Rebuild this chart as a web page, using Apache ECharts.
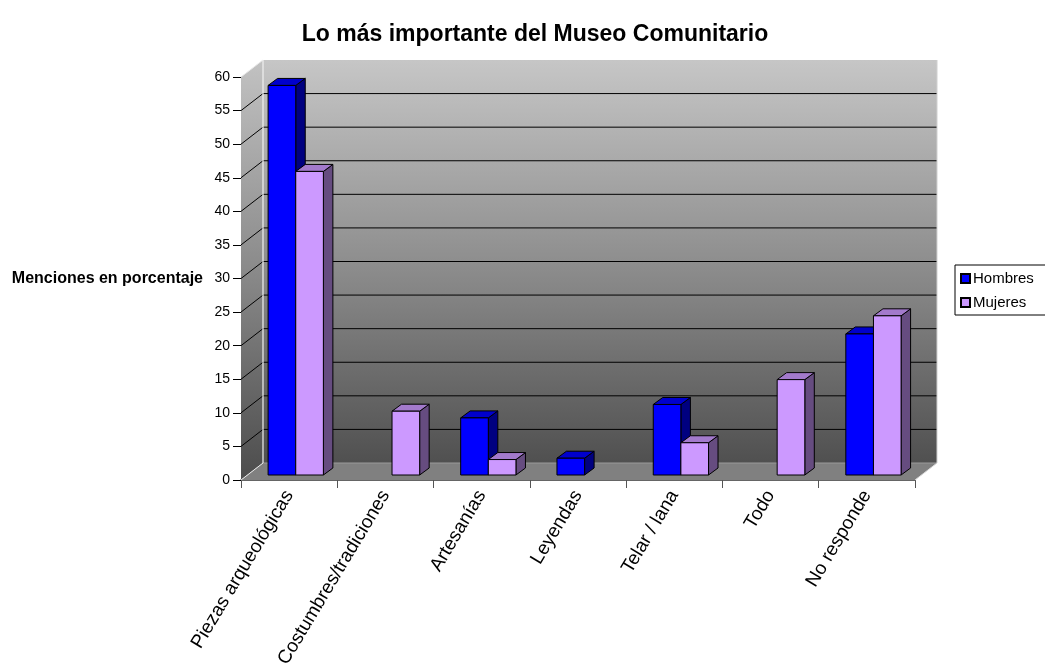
<!DOCTYPE html>
<html>
<head>
<meta charset="utf-8">
<script src="https://cdn.jsdelivr.net/npm/echarts@6/dist/echarts.min.js"></script>
<style>html,body{margin:0;padding:0;background:#fff}#c{width:1045px;height:671px}</style>
</head>
<body>
<div id="c"></div>
<script>
const categories = ['Piezas arqueológicas','Costumbres/tradiciones','Artesanías','Leyendas','Telar / lana','Todo','No responde'];
const hombres = [58, 0, 8.5, 2.5, 10.5, 0, 21];
const mujeres = [45.2, 9.5, 2.3, 0, 4.8, 14.2, 23.7];
const yTicks = [0,5,10,15,20,25,30,35,40,45,50,55,60];

const FONT = "'Liberation Sans', Arial, sans-serif";
const DX = 22, DY = -17;          // depth of the 3D box
const FX = 6.6, FY = -5;          // bar front plane offset
const BDX = 9.5, BDY = -7;        // bar depth
const BAR_FRAC = 0.287;

const chart = echarts.init(document.getElementById('c'), null, {renderer:'canvas'});

function wallRender(params, api) {
  const cs = params.coordSys;
  const x0 = cs.x, x1 = cs.x + cs.width, yt = cs.y, yb = cs.y + cs.height;
  const grad = new echarts.graphic.LinearGradient(0,0,0,1,[
    {offset:0,color:'#c6c6c6'},{offset:0.5,color:'#8e8e8e'},{offset:1,color:'#505050'}]);
  const gradSide = new echarts.graphic.LinearGradient(0,0,0,1,[
    {offset:0,color:'#c2c2c2'},{offset:0.5,color:'#8a8a8a'},{offset:1,color:'#4c4c4c'}]);
  const children = [];
  children.push({type:'rect', shape:{x:x0+DX, y:yt+DY, width:x1-x0, height:yb-yt}, style:{fill:grad}});
  children.push({type:'polygon', shape:{points:[[x0,yt],[x0+DX,yt+DY],[x0+DX,yb+DY],[x0,yb]]}, style:{fill:gradSide}});
  children.push({type:'polygon', shape:{points:[[x0,yb],[x1,yb],[x1+DX,yb+DY],[x0+DX,yb+DY]]}, style:{fill:'#808080'}});
  yTicks.forEach(v => {
    const y = api.coord([0, v])[1];
    const edge = (v === 0 || v === 60);
    const col = edge ? '#e8e8e8' : '#000';
    if (!edge) {
      children.push({type:'line', shape:{x1:x0+DX, y1:y+DY, x2:x1+DX, y2:y+DY}, style:{stroke:col, lineWidth:1}});
    } else if (v === 0) {
      children.push({type:'line', shape:{x1:x0+DX, y1:y+DY, x2:x1+DX, y2:y+DY}, style:{stroke:'#9a9a9a', lineWidth:1}});
    }
    children.push({type:'line', shape:{x1:x0, y1:y, x2:x0+DX, y2:y+DY}, style:{stroke:col, lineWidth:1}});
  });
  children.push({type:'line', shape:{x1:x0+DX, y1:yt+DY, x2:x0+DX, y2:yb+DY}, style:{stroke:'#f0f0f0', lineWidth:1.2}});
  children.push({type:'line', shape:{x1:x1, y1:yb, x2:x1+DX, y2:yb+DY}, style:{stroke:'#d8d8d8', lineWidth:1}});
  children.push({type:'line', shape:{x1:x1+DX, y1:yt+DY, x2:x1+DX, y2:yb+DY}, style:{stroke:'#d0d0d0', lineWidth:1}});
  return {type:'group', children};
}

function makeBarRender(side, front, top, sideCol) {
  return function(params, api) {
    const v = api.value(1);
    if (!v) return null;
    const c = api.coord([api.value(0), v]);
    const b = api.coord([api.value(0), 0]);
    const w = api.size([1, 0])[0] * BAR_FRAC;
    const cx = c[0] + FX;
    const left = side < 0 ? cx - w : cx;
    const right = left + w;
    const t = c[1] + FY, bt = b[1] + FY;
    const st = {stroke:'#000', lineWidth:1};
    return {type:'group', children:[
      {type:'polygon', shape:{points:[[right,t],[right+BDX,t+BDY],[right+BDX,bt+BDY],[right,bt]]}, style:Object.assign({fill:sideCol}, st)},
      {type:'polygon', shape:{points:[[left,t],[right,t],[right+BDX,t+BDY],[left+BDX,t+BDY]]}, style:Object.assign({fill:top}, st)},
      {type:'rect', shape:{x:left, y:t, width:w, height:bt-t}, style:Object.assign({fill:front}, st)}
    ]};
  };
}

const option = {
  backgroundColor:'#fff',
  animation:false,
  title:{text:'Lo más importante del Museo Comunitario', left:530, top:18, textAlign:'center',
    textStyle:{fontFamily:FONT, fontSize:23, fontWeight:'bold', color:'#000'}},
  legend:{
    left:955, top:265, orient:'vertical', itemWidth:9, itemHeight:9, itemGap:9,
    padding:[6,12,5,5], borderColor:'#000', borderWidth:1, backgroundColor:'#fff',
    textStyle:{fontFamily:FONT, fontSize:15, color:'#000', padding:[0,0,0,-2]},
    data:[{name:'Hombres', icon:'rect'},{name:'Mujeres', icon:'rect'}]
  },
  grid:{left:241, right:130, top:77, bottom:191, containLabel:false},
  xAxis:{type:'category', data:categories, boundaryGap:true,
    axisLine:{lineStyle:{color:'#333', width:1.5}},
    axisTick:{show:true, length:8, lineStyle:{color:'#555'}, alignWithLabel:false},
    axisLabel:{rotate:59, interval:0, margin:12, fontFamily:FONT, fontSize:19, color:'#000'},
    splitLine:{show:false}},
  yAxis:{type:'value', min:0, max:60, interval:5,
    name:'Menciones en porcentaje', nameLocation:'middle', nameRotate:0, nameGap:38,
    nameTextStyle:{fontFamily:FONT, fontSize:16, fontWeight:'bold', color:'#000', align:'right'},
    axisLine:{show:true, lineStyle:{color:'#000'}},
    axisTick:{show:true, length:8, lineStyle:{color:'#000'}},
    axisLabel:{margin:11, fontFamily:FONT, fontSize:14, color:'#000'},
    splitLine:{show:false}},
  series:[
    {type:'custom', name:'walls', renderItem:wallRender, data:[[0,0]], encode:{x:0,y:1}, clip:false, silent:true, z:1},
    {type:'custom', name:'Hombres', renderItem:makeBarRender(-1,'#0000ff','#0000cc','#000080'),
      data:hombres.map((v,i)=>[i,v]), encode:{x:0,y:1}, clip:false, z:3,
      itemStyle:{color:'#0000ff', borderColor:'#000', borderWidth:1}},
    {type:'custom', name:'Mujeres', renderItem:makeBarRender(1,'#cc99ff','#a37acc','#664c80'),
      data:mujeres.map((v,i)=>[i,v]), encode:{x:0,y:1}, clip:false, z:3,
      itemStyle:{color:'#cc99ff', borderColor:'#000', borderWidth:1}}
  ]
};
chart.setOption(option);
</script>
</body>
</html>
